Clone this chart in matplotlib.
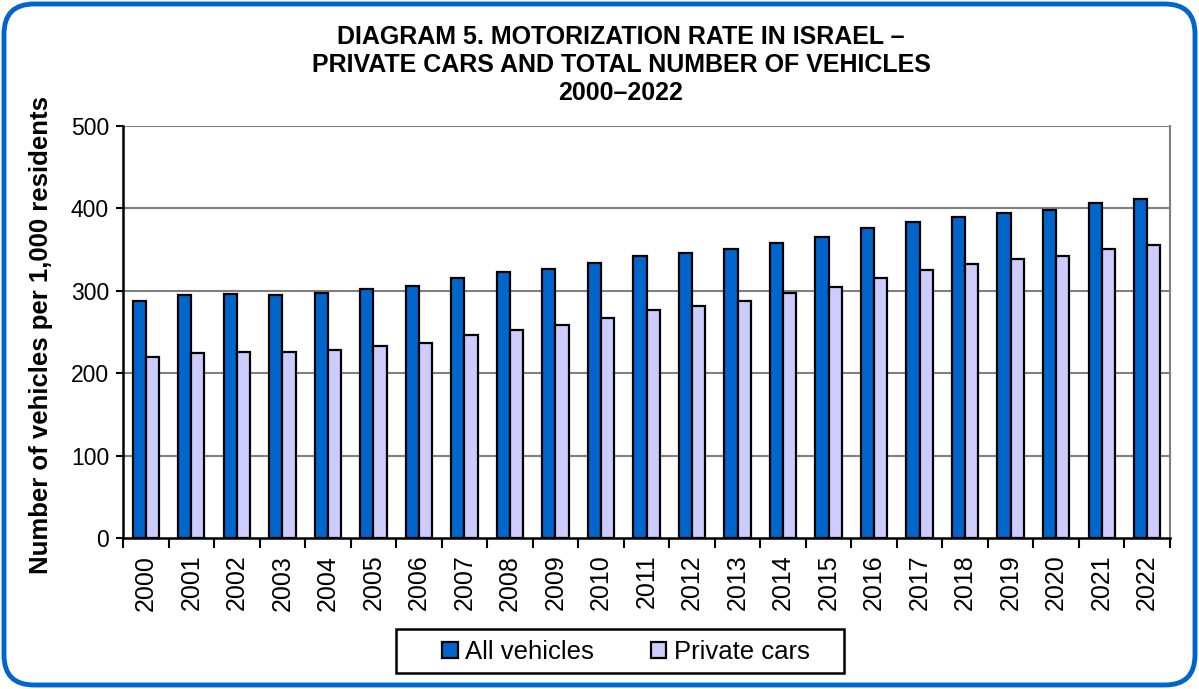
import matplotlib
matplotlib.use("Agg")
import matplotlib.pyplot as plt
import matplotlib.patches as mpatches
import numpy as np

plt.rcParams['font.family'] = ['Liberation Sans', 'DejaVu Sans']

years = [str(y) for y in range(2000, 2023)]
all_vehicles = [288, 295, 296, 295, 297, 302, 306, 315, 323, 326, 334, 342, 346, 351,
                358, 365, 376, 384, 390, 395, 398, 407, 411]
private_cars = [220, 225, 226, 226, 228, 233, 237, 246, 253, 258, 267, 277, 282, 288,
                297, 305, 316, 325, 332, 338, 342, 351, 356]
title_lines = ["DIAGRAM 5. MOTORIZATION RATE IN ISRAEL \u2013",
               "PRIVATE CARS AND TOTAL NUMBER OF VEHICLES",
               "2000\u20132022"]

blue = '#0066CC'
lilac = '#CCCCFF'
W, H = 1199, 689

fig = plt.figure(figsize=(W / 100, H / 100), dpi=100)
ax = fig.add_axes([123/W, 151/H, 1047/W, 412/H])

x = np.arange(len(years))
w = 0.29
ax.bar(x - w/2, all_vehicles, w, color=blue, edgecolor='black', linewidth=1.6,
       label='All vehicles', zorder=3)
ax.bar(x + w/2, private_cars, w, color=lilac, edgecolor='black', linewidth=1.6,
       label='Private cars', zorder=3)

ax.set_xlim(-0.5, len(years) - 0.5)
ax.set_ylim(0, 500)
ax.set_yticks(range(0, 501, 100))
for v in range(100, 501, 100):
    ax.axhline(v, color='#808080', linewidth=1.5, zorder=1)

ax.set_xticks(x)
ax.set_xticklabels(years, rotation=90, fontsize=18)
ax.set_xticks(np.arange(-0.5, len(years)), minor=True)
ax.tick_params(axis='x', which='major', length=0, pad=12)
ax.tick_params(axis='x', which='minor', length=7, width=1.5, color='black')
ax.tick_params(axis='y', length=5, width=1.5, labelsize=16.5, pad=5)

ax.spines['left'].set_linewidth(1.8)
ax.spines['bottom'].set_linewidth(1.8)
ax.spines['right'].set_color('#808080')
ax.spines['right'].set_linewidth(1.5)
ax.spines['top'].set_visible(False)

ax.set_ylabel('Number of vehicles per 1,000 residents', fontsize=18.5,
              fontweight='bold')
ax.yaxis.set_label_coords(53/W, 1 - 335/H, transform=fig.transFigure)

fig.text(621/W, 1 - 65/H, "\n".join(title_lines), ha='center', va='center',
         fontsize=18, fontweight='bold', linespacing=1.2)

# legend without frame, box drawn separately
leg = ax.legend(loc='center', bbox_to_anchor=(626/W, 1 - 652/H),
                bbox_transform=fig.transFigure, ncol=2, fontsize=18.5,
                frameon=False, handlelength=0.6, handleheight=0.6,
                handletextpad=0.3, columnspacing=2.2)
box = mpatches.Rectangle((396/W, 1 - 673/H), 448/W, 44/H, transform=fig.transFigure,
                         fill=False, edgecolor='black', linewidth=1.8)
fig.patches.append(box)

border = mpatches.FancyBboxPatch((0.04, 0.04), W / 100 - 0.08, H / 100 - 0.08,
                                 boxstyle="round,pad=0,rounding_size=0.3",
                                 transform=fig.dpi_scale_trans, fill=False,
                                 edgecolor=blue, linewidth=3.5)
fig.patches.append(border)

fig.savefig('out.png', dpi=100)
